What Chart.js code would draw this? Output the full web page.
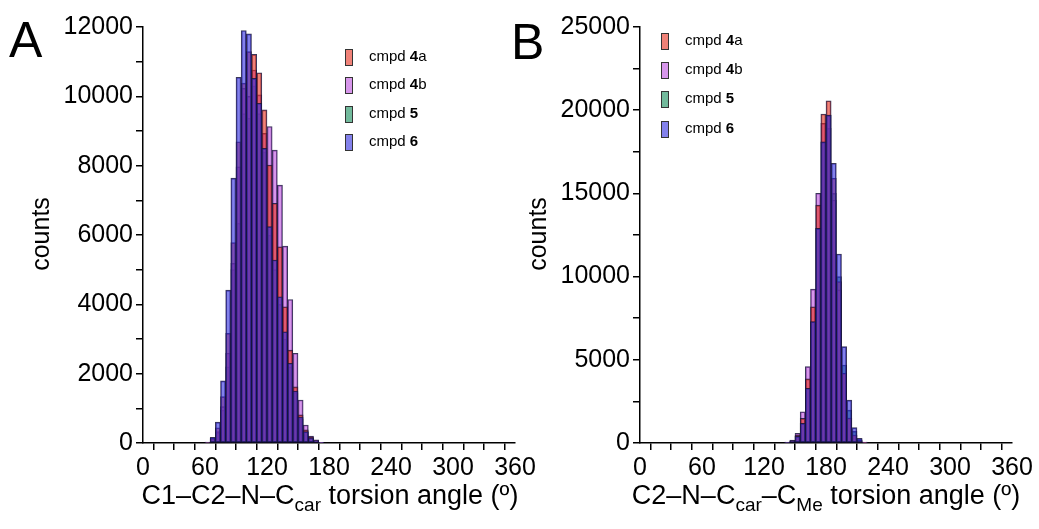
<!DOCTYPE html>
<html>
<head>
<meta charset="utf-8">
<script src="https://cdn.jsdelivr.net/npm/chart.js@4.4.0/dist/chart.umd.min.js"></script>
<style>
  body { margin: 0; background: #fff; font-family: "Liberation Sans", Arial, sans-serif; }
  #wrap { position: relative; width: 1039px; height: 529px; overflow: hidden; }
  canvas { position: absolute; top: 0; }
  .lbl { position: absolute; color: #000; white-space: nowrap; }
  .panel { font-size: 50px; line-height: 1; }
  .ytitle { font-size: 25px; transform: translate(-50%, -50%) rotate(-90deg); }
  .xtitle { font-size: 27px; transform: translateX(-50%); }
  .xtitle sub { font-size: 19px; vertical-align: -7px; }
  .leg { position: absolute; font-size: 15px; white-space: nowrap; }
  .leg span.sw { display: inline-block; width: 6px; height: 15px; border: 1px solid #333; vertical-align: middle; margin-right: 16px; }
</style>
</head>
<body>
<div id="wrap">
  <canvas id="chartA" width="540" height="529" style="left:0"></canvas>
  <canvas id="chartB" width="539" height="529" style="left:500px"></canvas>

  <div class="lbl panel" style="left:9px; top:15px">A</div>
  <div class="lbl panel" style="left:511px; top:17px">B</div>
  <div class="lbl ytitle" style="left:40px; top:234px">counts</div>
  <div class="lbl ytitle" style="left:537px; top:234px">counts</div>
  <div class="lbl xtitle" style="left:330px; top:480px">C1–C2–N–C<sub>car</sub> torsion angle (º)</div>
  <div class="lbl xtitle" style="left:826px; top:480px">C2–N–C<sub>car</sub>–C<sub>Me</sub> torsion angle (º)</div>
  <div id="legA"></div>
  <div id="legB"></div>
</div>
<script>
// histogram bins (left edge, degrees), 5 degree wide
const binsA = [60, 65, 70, 75, 80, 85, 90, 95, 100, 105, 110, 115, 120, 125, 130, 135, 140, 145, 150, 155, 160, 165, 170];
const a_4a = [20, 140, 440, 1340, 3160, 5780, 8690, 10380, 11290, 11210, 10680, 9610, 8020, 6915, 5660, 3930, 2680, 1620, 810, 380, 180, 70, 15];
const a_4b = [15, 120, 330, 1050, 2590, 5180, 7970, 10230, 10000, 10760, 10040, 8930, 9130, 8450, 7440, 5680, 4140, 2590, 1240, 520, 200, 90, 20];
const a_5  = [20, 130, 300, 950, 2200, 5000, 6340, 9500, 9370, 10300, 9500, 8400, 6000, 5000, 4000, 3000, 2200, 1450, 700, 320, 140, 50, 10];
const a_6  = [30, 160, 600, 1790, 4410, 7640, 10550, 11900, 11800, 10520, 9800, 8500, 6240, 5280, 4220, 3210, 2300, 1500, 750, 330, 150, 60, 15];

const binsB = [140, 145, 150, 155, 160, 165, 170, 175, 180, 185, 190, 195, 200, 205, 210, 215];
const b_4a = [40, 140, 480, 1480, 3850, 8190, 14300, 19770, 20570, 15910, 9700, 4190, 1500, 480, 150, 30];
const b_4b = [60, 180, 580, 1880, 4590, 9250, 15010, 19210, 19710, 14600, 9200, 4190, 1500, 480, 150, 30];
const b_5  = [40, 120, 420, 1200, 3300, 7300, 12900, 18100, 18910, 15000, 10000, 4690, 1980, 700, 200, 40];
const b_6  = [30, 100, 400, 1180, 3290, 7290, 12900, 18100, 19700, 16810, 11360, 5790, 2580, 920, 280, 60];

const xTicks = [0, 60, 120, 180, 240, 300, 360];

// compounds: name parts (plain + bold number + suffix), colour, draw order (lower = on top)
const cmpds = [
  { pre: 'cmpd ', num: '4', suf: 'a', color: 'rgba(230, 47, 30, 0.6)', order: 2 },
  { pre: 'cmpd ', num: '4', suf: 'b', color: 'rgba(188, 80, 222, 0.6)', order: 3 },
  { pre: 'cmpd ', num: '5', suf: '',  color: 'rgba(20, 140, 90, 0.6)', order: 4 },
  { pre: 'cmpd ', num: '6', suf: '',  color: 'rgba(48, 45, 222, 0.6)', order: 1 }
];

Chart.defaults.font.family = '"Liberation Sans", Arial, sans-serif';
Chart.defaults.color = '#000';

function makeDatasets(bins, seriesList) {
  return seriesList.map((vals, i) => ({
    label: cmpds[i].pre + cmpds[i].num + cmpds[i].suf,
    data: bins.map((b, j) => ({ x: b + 2.5, y: vals[j] })),
    backgroundColor: cmpds[i].color,
    borderColor: 'rgba(25, 20, 60, 0.85)',
    borderWidth: 1,
    borderSkipped: false,
    grouped: false,
    barPercentage: 1,
    categoryPercentage: 1,
    order: cmpds[i].order
  }));
}

function makeChart(id, bins, seriesList, yMax, yStep, yLabelStep, yWidth, padRight) {
  const ctx = document.getElementById(id).getContext('2d');
  return new Chart(ctx, {
    type: 'bar',
    data: { datasets: makeDatasets(bins, seriesList) },
    options: {
      responsive: false,
      animation: false,
      layout: { padding: { left: 0, right: padRight, top: 27, bottom: 0 } },
      plugins: { legend: { display: false }, tooltip: { enabled: false } },
      scales: {
        x: {
          type: 'linear',
          min: 0,
          max: 360,
          offset: false,
          afterFit: s => { s.height = 86; },
          afterBuildTicks: s => { s.ticks = []; for (let v = 0; v <= 360; v += 20) s.ticks.push({ value: v }); },
          ticks: {
            autoSkip: false,
            maxRotation: 0,
            padding: 3,
            font: { size: 25 },
            callback: v => xTicks.includes(v) ? String(v) : ''
          },
          grid: { drawOnChartArea: false, drawTicks: true, tickLength: 7, color: '#000', lineWidth: 1.5 },
          border: { color: '#000', width: 1.5 }
        },
        y: {
          min: 0,
          max: yMax,
          afterFit: s => { s.width = yWidth; },
          ticks: {
            stepSize: yStep,
            padding: 3,
            font: { size: 25 },
            callback: v => (v % yLabelStep === 0 ? String(v) : '')
          },
          grid: { drawOnChartArea: false, drawTicks: true, tickLength: 7, color: '#000', lineWidth: 1.5 },
          border: { color: '#000', width: 1.5 }
        }
      }
    }
  });
}

makeChart('chartA', binsA, [a_4a, a_4b, a_5, a_6], 12000, 1000, 2000, 143, 25);
makeChart('chartB', binsB, [b_4a, b_4b, b_5, b_6], 25000, 2500, 5000, 140, 27);

// legends with bold compound numbers
function buildLegend(id, left, tops) {
  const el = document.getElementById(id);
  cmpds.forEach((c, i) => {
    const row = document.createElement('div');
    row.className = 'leg';
    row.style.left = left + 'px';
    row.style.top = tops[i] + 'px';
    row.innerHTML = `<span class="sw" style="background:${c.color}"></span>${c.pre}<b>${c.num}</b>${c.suf}`;
    el.appendChild(row);
  });
}
buildLegend('legA', 345, [47, 75, 104, 132]);
buildLegend('legB', 661, [31, 60, 89, 119]);
</script>
</body>
</html>
